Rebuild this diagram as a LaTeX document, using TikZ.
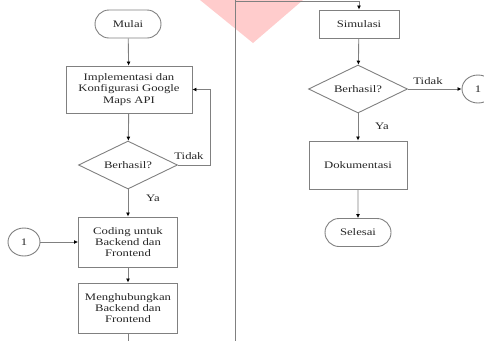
\documentclass[tikz,border=0pt]{standalone}
\usepackage{fontspec}
\setmainfont{Liberation Serif}[FakeStretch=1.27]
\usetikzlibrary{shapes}
\usetikzlibrary{arrows.meta}

\begin{document}
\begin{tikzpicture}[x=1pt,y=-1pt]
			\tikzstyle{every node}=[font=\fontsize{10}{11.3}\selectfont, text=black!85]
			\tikzstyle{terminal}=[rounded rectangle,draw=black!50,line width=0.9pt,minimum width=66pt,minimum height=28pt,inner sep=0pt]
			\tikzstyle{process}=[rectangle,draw=black!50,line width=0.9pt,align=center,inner sep=0pt]
			\tikzstyle{decision}=[diamond,draw=black!50,line width=0.9pt,aspect=2.06,minimum width=99pt,minimum height=48pt,inner sep=0pt]
			\tikzstyle{connector}=[ellipse,draw=black!50,line width=0.9pt,minimum width=32pt,minimum height=28pt,inner sep=0pt]
			\tikzstyle{line}=[draw=black!50,line width=0.9pt,-{Latex[length=4pt,width=4pt,black]}]
			\tikzstyle{plain}=[draw=black!50,line width=0.9pt]
			
			\clip (0,0) rectangle (484,341);
			\fill[red!20] (200,0) -- (303,0) -- (253,43) -- cycle;
			
			% left column
			\node[terminal] (mulai) at (128,24) {Mulai};
			\node[process,minimum width=126pt,minimum height=47pt] (impl) at (129,89.5) {Implementasi dan\\Konfigurasi Google\\Maps API};
			\node[decision] (cek1) at (128,165) {Berhasil?};
			\node[process,minimum width=99pt,minimum height=50pt] (coding) at (128,242) {Coding untuk\\Backend dan\\Frontend};
			\node[connector] (sat1) at (24,242) {1};
			\node[process,minimum width=99pt,minimum height=50pt] (hub) at (128,308) {Menghubungkan\\Backend dan\\Frontend};
			\node[inner sep=0pt] (tidak1) at (189,156) {Tidak};
			\node[inner sep=0pt] (ya1) at (153,198) {Ya};
			\coordinate (loop1) at (210,165);
			\coordinate (loop2) at (210,89.5);
			\coordinate (bawah) at (128,341);
			
			% right column
			\node[process,minimum width=80pt,minimum height=28pt] (sim) at (359,24) {Simulasi};
			\node[decision] (cek2) at (358,89) {Berhasil?};
			\node[connector] (sat2) at (478,89) {1};
			\node[process,minimum width=98pt,minimum height=48pt] (dok) at (358,165) {Dokumentasi};
			\node[terminal] (selesai) at (358,232.5) {Selesai};
			\node[inner sep=0pt] (tidak2) at (428,81) {Tidak};
			\node[inner sep=0pt] (ya2) at (382,126) {Ya};
			\coordinate (atas1) at (235,1);
			\coordinate (atas2) at (359,1);
			
			% separator
			\draw[plain] (235,0) -- (235,341);
			
			\draw[line] (mulai) -- (impl);
			\draw[line] (impl) -- (cek1);
			\draw[line] (cek1.east) -- (loop1) -- (loop2) -- (impl.east);
			\draw[line] (cek1) -- (coding);
			\draw[line] (sat1) -- (coding);
			\draw[line] (coding) -- (hub);
			\draw[plain] (hub) -- (bawah);
			
			\draw[line] (atas1) -- (atas2) -- (sim);
			\draw[line] (sim) -- (cek2);
			\draw[line] (cek2.east) -- (sat2);
			\draw[line] (cek2) -- (dok);
			\draw[line] (dok) -- (selesai);
\end{tikzpicture}
\end{document}
